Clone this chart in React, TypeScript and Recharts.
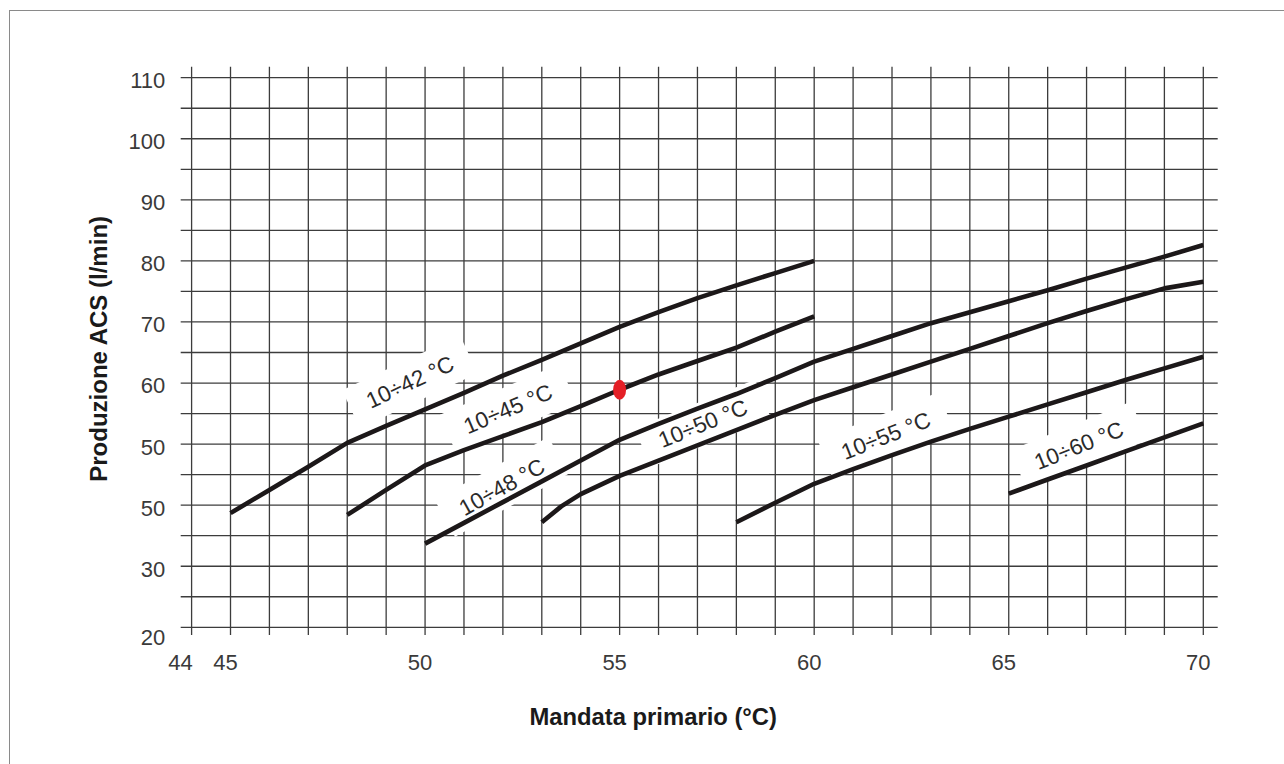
import React from 'react';
import { LineChart, Line, XAxis, YAxis, CartesianGrid, ReferenceDot } from 'recharts';

// ---- axis ticks ----
const xGridTicks = [44, 45, 46, 47, 48, 49, 50, 51, 52, 53, 54, 55, 56, 57, 58, 59, 60, 61, 62, 63, 64, 65, 66, 67, 68, 69, 70];
const xTickValues = [44, 45, 50, 55, 60, 65, 70];
const xTickTexts = ['44', '45', '50', '55', '60', '65', '70'];
const yGridTicks = [20, 25, 30, 35, 40, 45, 50, 55, 60, 65, 70, 75, 80, 85, 90, 95, 100, 105, 110];
const yTickValues = [20, 30, 40, 50, 60, 70, 80, 90, 100, 110];
const yTickTexts = ['20', '30', '50', '50', '60', '70', '80', '90', '100', '110'];

// ---- series ----
const s42X = [45, 46, 47, 48, 49, 50, 51, 52, 53, 54, 55, 56, 57, 58, 59, 60];
const s42Y = [38.7, 42.5, 46.3, 50.2, 53.0, 55.7, 58.4, 61.2, 63.8, 66.5, 69.2, 71.6, 73.9, 76.0, 78.0, 80.0];

const s45X = [48, 49, 50, 51, 52, 53, 54, 55, 56, 57, 58, 59, 60];
const s45Y = [38.4, 42.5, 46.5, 49.0, 51.3, 53.6, 56.2, 58.9, 61.4, 63.6, 65.8, 68.4, 70.9];

const s48X = [50, 51, 52, 53, 54, 55, 56, 57, 58, 59, 60, 61, 62, 63, 64, 65, 66, 67, 68, 69, 70];
const s48Y = [33.7, 37.1, 40.5, 43.9, 47.3, 50.7, 53.3, 55.8, 58.2, 60.8, 63.5, 65.6, 67.7, 69.8, 71.6, 73.4, 75.2, 77.1, 78.9, 80.7, 82.6];

const s50X = [53, 53.5, 54, 55, 56, 57, 58, 59, 60, 61, 62, 63, 64, 65, 66, 67, 68, 69, 70];
const s50Y = [37.2, 39.8, 41.8, 44.8, 47.3, 49.8, 52.3, 54.8, 57.2, 59.3, 61.4, 63.5, 65.6, 67.7, 69.8, 71.8, 73.7, 75.5, 76.6];

const s55X = [58, 59, 60, 61, 62, 63, 64, 65, 66, 67, 68, 69, 70];
const s55Y = [37.2, 40.4, 43.5, 45.9, 48.2, 50.4, 52.5, 54.5, 56.5, 58.5, 60.5, 62.4, 64.3];

const s60X = [65, 66, 67, 68, 69, 70];
const s60Y = [41.9, 44.2, 46.5, 48.8, 51.1, 53.4];

// ---- curve labels ----
const labelTexts = ['10÷42 °C', '10÷45 °C', '10÷48 °C', '10÷50 °C', '10÷55 °C', '10÷60 °C'];
const labelX = [49.61, 52.13, 51.97, 57.14, 61.84, 66.8];
const labelY = [60.2, 55.8, 43.0, 53.4, 51.4, 49.8];
const labelAngle = [25, 23, 29, 22, 21.5, 22];

// ---- highlighted point ----
const markerX = 55;
const markerY = 58.9;

const zip = (xs: number[], ys: number[]) => xs.map((x, i) => ({ x, y: ys[i] }));
const seriesData = [
  zip(s42X, s42Y),
  zip(s45X, s45Y),
  zip(s48X, s48Y),
  zip(s50X, s50Y),
  zip(s55X, s55Y),
  zip(s60X, s60Y),
];

const FONT = '"Liberation Sans", Arial, Helvetica, sans-serif';
const TICK_FILL = '#3a3a3a';

const XTick = (props: any) => {
  const { x, y, payload } = props;
  const idx = xTickValues.indexOf(payload.value);
  if (idx < 0) return <g />;
  const nudge = payload.value === 44 ? -11 : -5;
  return (
    <text x={x + nudge} y={y + 34.6} textAnchor="middle" fontFamily={FONT} fontSize={22} fill={TICK_FILL}>
      {xTickTexts[idx]}
    </text>
  );
};

const YTick = (props: any) => {
  const { x, y, payload } = props;
  const idx = yTickValues.indexOf(payload.value);
  if (idx < 0) return <g />;
  const nudge = payload.value === 20 ? 10 : 2.5;
  return (
    <text x={x - 15.4} y={y + 7.9 + nudge} textAnchor="end" fontFamily={FONT} fontSize={22} fill={TICK_FILL}>
      {yTickTexts[idx]}
    </text>
  );
};

const makeLabelShape = (text: string, angle: number) => (props: any) => {
  const { cx, cy } = props;
  const w = 130;
  const h = 42;
  return (
    <g transform={`rotate(${-angle} ${cx} ${cy})`}>
      <rect x={cx - w / 2} y={cy - h / 2} width={w} height={h} fill="#ffffff" />
      <text x={cx} y={cy + 8} textAnchor="middle" fontFamily={FONT} fontSize={22.5} fill="#2a2a2a">
        {text}
      </text>
    </g>
  );
};

const markerShape = (props: any) => {
  const { cx, cy } = props;
  return <ellipse cx={cx} cy={cy} rx={6.5} ry={10} fill="#e41f26" />;
};

const XTitle = (props: any) => {
  const vb = props.viewBox || { x: 0, y: 0, width: 0, height: 0 };
  return (
    <text x={vb.x + vb.width / 2 - 46} y={vb.y + 90} textAnchor="middle" fontFamily={FONT} fontSize={23.8} fontWeight="bold" fill="#1a1a1a">
      Mandata primario (°C)
    </text>
  );
};

const YTitle = (props: any) => {
  const vb = props.viewBox || { x: 0, y: 0, width: 0, height: 0 };
  const cx = vb.x + 98.5;
  const cy = vb.y + vb.height / 2 - 2;
  return (
    <text
      x={cx}
      y={cy + 8.5}
      transform={`rotate(-90 ${cx} ${cy})`}
      textAnchor="middle"
      fontFamily={FONT}
      fontSize={24}
      fontWeight="bold"
      fill="#1a1a1a"
    >
      Produzione ACS (l/min)
    </text>
  );
};

export default function App() {
  return (
    <div style={{ position: 'relative', width: 1284, height: 764, overflow: 'hidden', background: '#fff' }}>
      <style>{'body{margin:0;}'}</style>
      <div
        style={{
          position: 'absolute',
          left: 9,
          top: 10,
          right: -10,
          bottom: -10,
          borderTop: '1.5px solid #8a8a8a',
          borderLeft: '1.5px solid #8a8a8a',
        }}
      />
      <div style={{ position: 'absolute', left: 0, top: 0 }}>
        <LineChart width={1284} height={764} margin={{ top: 66.7, right: 66.3, bottom: 89, left: 0 }}>
          <CartesianGrid
            stroke="#3c3c3c"
            strokeWidth={1.3}
            horizontalValues={yGridTicks}
            verticalValues={xGridTicks}
          />
          <XAxis
            type="number"
            dataKey="x"
            domain={[43.72, 70.37]}
            allowDataOverflow
            ticks={xGridTicks}
            interval={0}
            tick={<XTick />}
            tickLine={false}
            axisLine={false}
            tickSize={0}
            tickMargin={0}
            height={40}
            label={{ content: <XTitle /> }}
          />
          <YAxis
            type="number"
            dataKey="y"
            domain={[18.74, 111.8]}
            allowDataOverflow
            ticks={yGridTicks}
            interval={0}
            tick={<YTick />}
            tickLine={false}
            axisLine={false}
            tickSize={0}
            tickMargin={0}
            width={180.7}
            label={{ content: <YTitle /> }}
          />
          {labelTexts.map((t, i) => (
            <ReferenceDot
              key={'lbl' + i}
              x={labelX[i]}
              y={labelY[i]}
              r={1}
              zIndex={350}
              ifOverflow="visible"
              shape={makeLabelShape(t, labelAngle[i])}
            />
          ))}
          {seriesData.map((d, i) => (
            <Line
              key={'s' + i}
              data={d}
              dataKey="y"
              name={labelTexts[i]}
              type="linear"
              stroke="#1c1819"
              strokeWidth={4.6}
              strokeLinejoin="round"
              dot={false}
              activeDot={false}
              isAnimationActive={false}
            />
          ))}
          <ReferenceDot x={markerX} y={markerY} r={8} zIndex={1500} ifOverflow="visible" shape={markerShape} />
        </LineChart>
      </div>
    </div>
  );
}
